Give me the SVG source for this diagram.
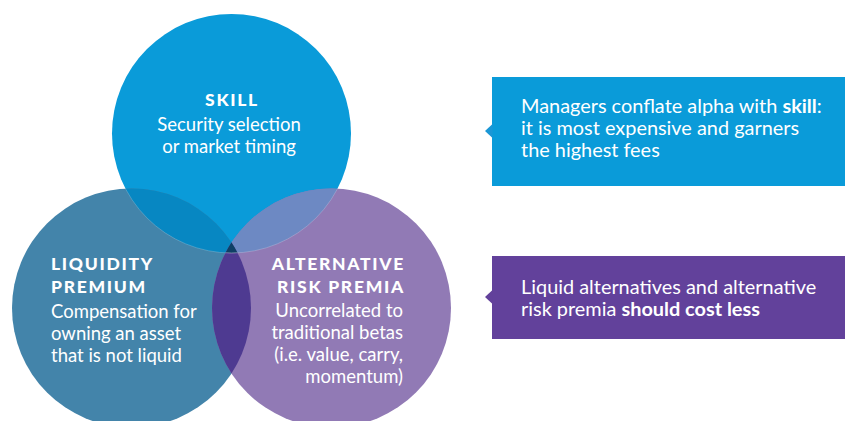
<svg xmlns="http://www.w3.org/2000/svg" width="845" height="421" viewBox="0 0 845 421">
  <style>
    .head { font-family: Lato, "Open Sans", sans-serif; font-weight: 900; font-size: 17.5px; letter-spacing: 1.7px; fill: #ffffff; }
    .body { font-family: Lato, "Open Sans", sans-serif; font-weight: 400; font-size: 18.5px; fill: #ffffff; }
    .note { font-size: 19.9px; }
    .bold { font-weight: 700; }
    .edge { fill: none; stroke: #ffffff; stroke-opacity: 0.25; stroke-width: 0.8; }
  </style>
  <defs>
    <circle id="c-skill" cx="231.5" cy="133.5" r="119.5"/>
    <circle id="c-liq" cx="131.5" cy="308" r="119.5"/>
    <circle id="c-alt" cx="331.5" cy="308" r="119.5"/>
    <clipPath id="clip-skill"><use href="#c-skill"/></clipPath>
    <clipPath id="clip-liq"><use href="#c-liq"/></clipPath>
    <clipPath id="clip-alt"><use href="#c-alt"/></clipPath>
  </defs>

  <rect width="845" height="421" fill="#ffffff"/>

  <!-- base circles -->
  <g id="skill">
    <use href="#c-skill" fill="#0a9bd9"/>
  </g>
  <g id="liquidity">
    <use href="#c-liq" fill="#4384aa"/>
  </g>
  <g id="alternative">
    <use href="#c-alt" fill="#917ab5"/>
  </g>

  <!-- overlap regions -->
  <g id="overlaps">
    <g clip-path="url(#clip-skill)"><use href="#c-liq" fill="#0787c2"/></g>
    <g clip-path="url(#clip-skill)"><use href="#c-alt" fill="#6d89c3"/></g>
    <g clip-path="url(#clip-liq)"><use href="#c-alt" fill="#4e3a91"/></g>
    <g clip-path="url(#clip-skill)"><g clip-path="url(#clip-liq)"><use href="#c-alt" fill="#0f3f65"/></g></g>
    <g clip-path="url(#clip-liq)"><use href="#c-skill" class="edge"/></g>
    <g clip-path="url(#clip-alt)"><use href="#c-skill" class="edge"/></g>
  </g>

  <!-- circle labels -->
  <g id="skill-label">
    <text class="head" x="232" y="106" text-anchor="middle">SKILL</text>
    <text class="body" x="229" y="131" text-anchor="middle">Security selection</text>
    <text class="body" x="229" y="153" text-anchor="middle">or market timing</text>
  </g>
  <g id="liquidity-label">
    <text class="head" x="51" y="270">LIQUIDITY</text>
    <text class="head" x="51" y="293">PREMIUM</text>
    <text class="body" x="51" y="318">Compensation for</text>
    <text class="body" x="51" y="340">owning an asset</text>
    <text class="body" x="51" y="362">that is not liquid</text>
  </g>
  <g id="alternative-label">
    <text class="head" x="405" y="270" text-anchor="end">ALTERNATIVE</text>
    <text class="head" x="405" y="293" text-anchor="end">RISK PREMIA</text>
    <text class="body" x="403" y="317" text-anchor="end">Uncorrelated to</text>
    <text class="body" x="403" y="339" text-anchor="end">traditional betas</text>
    <text class="body" x="403" y="361" text-anchor="end">(i.e. value, carry,</text>
    <text class="body" x="403" y="383" text-anchor="end">momentum)</text>
  </g>

  <!-- callout boxes -->
  <g id="callout-skill">
    <rect x="492" y="77" width="353" height="109" fill="#0a9bd9"/>
    <polygon points="492.5,124 485,131 492.5,138" fill="#1a97d6"/>
    <text class="body note" x="521" y="113">Managers conflate alpha with <tspan class="bold">skill</tspan>:</text>
    <text class="body note" x="521" y="135">it is most expensive and garners</text>
    <text class="body note" x="521" y="157">the highest fees</text>
  </g>
  <g id="callout-alt">
    <rect x="492" y="256" width="353" height="83" fill="#62419b"/>
    <polygon points="492.5,290 485,297 492.5,304" fill="#62419b"/>
    <text class="body note" x="521" y="294">Liquid alternatives and alternative</text>
    <text class="body note" x="521" y="316">risk premia <tspan class="bold">should cost less</tspan></text>
  </g>
</svg>
